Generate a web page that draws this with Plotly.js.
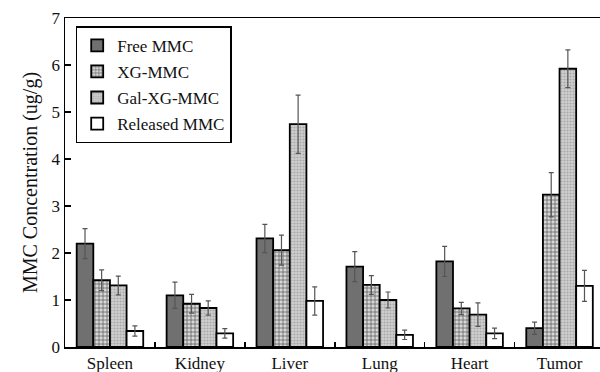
<!DOCTYPE html>
<html>
<head>
<meta charset="utf-8">
<script src="https://cdn.plot.ly/plotly-3.0.1.min.js"></script>
<style>html,body{margin:0;padding:0;background:#fff;}#chart{width:600px;height:372px;}</style>
</head>
<body>
<div id="chart"></div>
<script>
const categories = ["Spleen", "Kidney", "Liver", "Lung", "Heart", "Tumor"];
const freeMMC      = [2.20, 1.10, 2.31, 1.71, 1.82, 0.40];
const freeErr      = [0.32, 0.28, 0.30, 0.32, 0.32, 0.13];
const xgMMC        = [1.42, 0.92, 2.06, 1.32, 0.82, 3.24];
const xgErr        = [0.22, 0.20, 0.32, 0.20, 0.13, 0.47];
const galXgMMC     = [1.31, 0.83, 4.74, 1.00, 0.69, 5.92];
const galErr       = [0.20, 0.15, 0.62, 0.17, 0.25, 0.40];
const releasedMMC  = [0.34, 0.29, 0.98, 0.26, 0.29, 1.30];
const releasedErr  = [0.11, 0.10, 0.30, 0.10, 0.11, 0.33];
const yTicks = [0, 1, 2, 3, 4, 5, 6, 7];

const xIdx = categories.map((c, i) => i);
const boundaries = categories.slice(1).map((c, i) => i + 0.5);
const font = "Liberation Serif, Times New Roman, serif";

function errBar(arr) {
  return {type: "data", array: arr, visible: true, color: "#555", thickness: 1.2, width: 2.5};
}

const traces = [
  {name: "Free MMC", x: xIdx, y: freeMMC, error_y: errBar(freeErr),
   marker: {color: "#707070", line: {color: "#000", width: 1.8}}},
  {name: "XG-MMC", x: xIdx, y: xgMMC, error_y: errBar(xgErr),
   marker: {color: "#d8d8d8", line: {color: "#000", width: 1.8},
            pattern: {shape: "+", fgcolor: "#5e5e5e", bgcolor: "#d8d8d8", size: 4, solidity: 0.35, fillmode: "replace"}}},
  {name: "Gal-XG-MMC", x: xIdx, y: galXgMMC, error_y: errBar(galErr),
   marker: {color: "#c8c8c8", line: {color: "#000", width: 1.8},
            pattern: {shape: ".", fgcolor: "#a8a8a8", bgcolor: "#d0d0d0", size: 3, solidity: 0.4, fillmode: "replace"}}},
  {name: "Released MMC", x: xIdx, y: releasedMMC, error_y: errBar(releasedErr),
   marker: {color: "#ffffff", line: {color: "#000", width: 1.8}}}
].map((t, i) => Object.assign({type: "bar", legendgroup: "g" + i}, t));

// invisible carrier so the boundary-tick axis gets drawn
traces.push({type: "scatter", mode: "none", x: boundaries, y: boundaries.map(() => 0),
             xaxis: "x2", yaxis: "y", showlegend: false, hoverinfo: "skip"});

const layout = {
  width: 600, height: 372,
  margin: {l: 65, r: 0, t: 18, b: 25},
  paper_bgcolor: "#fff", plot_bgcolor: "#fff",
  barmode: "group", bargap: 0.26, bargroupgap: 0,
  font: {family: font, color: "#111", size: 17},
  showlegend: true,
  legend: {x: 0.02, y: 0.975, xanchor: "left", yanchor: "top",
           bgcolor: "#fff", bordercolor: "#000", borderwidth: 1.5,
           font: {family: font, size: 17, color: "#111"},
           tracegroupgap: 1, itemwidth: 30},
  xaxis: {
    range: [-0.5, 5.45], tickvals: xIdx, ticktext: categories,
    ticks: "", showgrid: false, zeroline: false,
    showline: true, linecolor: "#000", linewidth: 1.5, mirror: true,
    tickfont: {family: font, size: 17, color: "#111"}
  },
  xaxis2: {
    overlaying: "x", side: "bottom", anchor: "y",
    range: [-0.5, 5.45], tickvals: boundaries, ticks: "inside", ticklen: 5,
    tickwidth: 1.5, tickcolor: "#000", showticklabels: false,
    showgrid: false, zeroline: false, showline: false
  },
  yaxis: {
    range: [0, 7], tickvals: yTicks, ticks: "inside", ticklen: 6, tickwidth: 1.5, tickcolor: "#000",
    showgrid: false, zeroline: false,
    showline: true, linecolor: "#000", linewidth: 1.5,
    tickfont: {family: font, size: 17, color: "#111"},
    title: {text: "MMC Concentration (ug/g)", font: {family: font, size: 20, color: "#111"}, standoff: 8}
  }
};

Plotly.newPlot("chart", traces, layout, {displayModeBar: false, staticPlot: true});
</script>
</body>
</html>
